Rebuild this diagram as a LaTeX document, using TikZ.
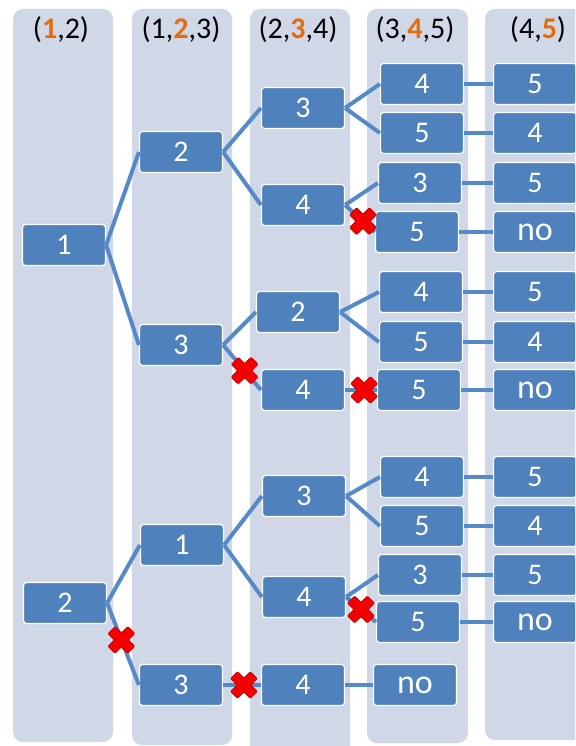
\documentclass[tikz,border=0pt]{standalone}
\usepackage{fontspec}
\setmainfont{Carlito}
\definecolor{colbg}{RGB}{208,216,232}
\definecolor{nodeblue}{RGB}{79,129,189}
\definecolor{edgeblue}{RGB}{85,137,200}
\definecolor{orangec}{RGB}{228,108,10}
\definecolor{xred}{RGB}{245,0,0}
\definecolor{xdark}{RGB}{190,0,0}
\tikzset{
  box/.style={draw=white, line width=1.2pt, fill=nodeblue, rounded corners=3pt,
    minimum width=83pt, minimum height=41pt, inner sep=0pt, text=white,
    font=\fontsize{30}{32}\selectfont},
  nobox/.style={box, font=\fontsize{34}{36}\selectfont},
  hdr/.style={inner sep=0pt, font=\fontsize{30}{32}\selectfont},
  edge/.style={draw=edgeblue, line width=4pt},
  colfill/.style={fill=colbg, rounded corners=10pt},
  xmark/.pic={\filldraw[fill=xred, draw=xdark, line width=0.7pt, rotate=45, rounded corners=1pt]
    (-5,-14) -- (5,-14) -- (5,-5) -- (14,-5) -- (14,5) -- (5,5) --
    (5,14) -- (-5,14) -- (-5,5) -- (-14,5) -- (-14,-5) -- (-5,-5) -- cycle;}
}
\begin{document}
\begin{tikzpicture}[x=1pt,y=-1pt]
\useasboundingbox (0,0) rectangle (575,746);
\clip (0,0) rectangle (575,746);
% columns
\fill[colfill] (13,9) rectangle (113,742);
\fill[colfill] (132,9) rectangle (232,745);
\fill[colfill] (250,9) rectangle (350,760);
\fill[colfill] (367,9) rectangle (468,743);
\fill[colfill] (485,9) rectangle (600,740);
% headers
\node[hdr] (h1) at (61,30) {(\textcolor{orangec}{\textbf{1}},2)};
\node[hdr] (h2) at (181,30) {(1,\textcolor{orangec}{\textbf{2}},3)};
\node[hdr] (h3) at (298,30) {(2,\textcolor{orangec}{\textbf{3}},4)};
\node[hdr] (h4) at (415,30) {(3,\textcolor{orangec}{\textbf{4}},5)};
\node[hdr] (h5) at (538,30) {(4,\textcolor{orangec}{\textbf{5}})};
% column 1
\node[box] (n1a) at (64,245) {1};
\node[box] (n1b) at (65,603) {2};
% column 2
\node[box] (n2a) at (181,152) {2};
\node[box] (n2b) at (181,345) {3};
\node[box] (n2c) at (182,545) {1};
\node[box] (n2d) at (181,685) {3};
% column 3
\node[box] (n3a) at (303,108) {3};
\node[box] (n3b) at (303,205) {4};
\node[box] (n3c) at (298,312) {2};
\node[box] (n3d) at (303,390) {4};
\node[box] (n3e) at (304,496) {3};
\node[box] (n3f) at (304,597) {4};
\node[box] (n3g) at (303,685) {4};
% column 4
\node[box] (n4a) at (422,84) {4};
\node[box] (n4b) at (422,133) {5};
\node[box] (n4c) at (420,183) {3};
\node[box] (n4d) at (417,232) {5};
\node[box] (n4e) at (421,292) {4};
\node[box] (n4f) at (421,342) {5};
\node[box] (n4g) at (419,390) {5};
\node[box] (n4h) at (422,477) {4};
\node[box] (n4i) at (422,526) {5};
\node[box] (n4j) at (420,575) {3};
\node[box] (n4k) at (418,622) {5};
\node[nobox] (n4l) at (415,685) {no};
% column 5
\node[box] (n5a) at (535,84) {5};
\node[box] (n5b) at (535,133) {4};
\node[box] (n5c) at (535,183) {5};
\node[nobox] (n5d) at (535,232) {no};
\node[box] (n5e) at (535,292) {5};
\node[box] (n5f) at (535,342) {4};
\node[nobox] (n5g) at (535,390) {no};
\node[box] (n5h) at (535,477) {5};
\node[box] (n5i) at (535,526) {4};
\node[box] (n5j) at (535,575) {5};
\node[nobox] (n5k) at (535,622) {no};
% edges
\draw[edge] (n1a.east) -- (n2a.west);
\draw[edge] (n1a.east) -- (n2b.west);
\draw[edge] (n1b.east) -- (n2c.west);
\draw[edge] (n1b.east) -- (n2d.west) pic[pos=0.45]{xmark};
\draw[edge] (n2a.east) -- (n3a.west);
\draw[edge] (n2a.east) -- (n3b.west);
\draw[edge] (n2b.east) -- (n3c.west);
\draw[edge] (n2b.east) -- (n3d.west) pic[pos=0.57]{xmark};
\draw[edge] (n2c.east) -- (n3e.west);
\draw[edge] (n2c.east) -- (n3f.west);
\draw[edge] (n2d.east) -- (n3g.west) pic[pos=0.55]{xmark};
\draw[edge] (n3a.east) -- (n4a.west);
\draw[edge] (n3a.east) -- (n4b.west);
\draw[edge] (n3b.east) -- (n4c.west);
\draw[edge] (n3b.east) -- (n4d.west) pic[pos=0.6]{xmark};
\draw[edge] (n3c.east) -- (n4e.west);
\draw[edge] (n3c.east) -- (n4f.west);
\draw[edge] (n3d.east) -- (n4g.west) pic[pos=0.6]{xmark};
\draw[edge] (n3e.east) -- (n4h.west);
\draw[edge] (n3e.east) -- (n4i.west);
\draw[edge] (n3f.east) -- (n4j.west);
\draw[edge] (n3f.east) -- (n4k.west) pic[pos=0.5]{xmark};
\draw[edge] (n3g.east) -- (n4l.west);
\draw[edge] (n4a.east) -- (n5a.west);
\draw[edge] (n4b.east) -- (n5b.west);
\draw[edge] (n4c.east) -- (n5c.west);
\draw[edge] (n4d.east) -- (n5d.west);
\draw[edge] (n4e.east) -- (n5e.west);
\draw[edge] (n4f.east) -- (n5f.west);
\draw[edge] (n4g.east) -- (n5g.west);
\draw[edge] (n4h.east) -- (n5h.west);
\draw[edge] (n4i.east) -- (n5i.west);
\draw[edge] (n4j.east) -- (n5j.west);
\draw[edge] (n4k.east) -- (n5k.west);
\end{tikzpicture}
\end{document}
